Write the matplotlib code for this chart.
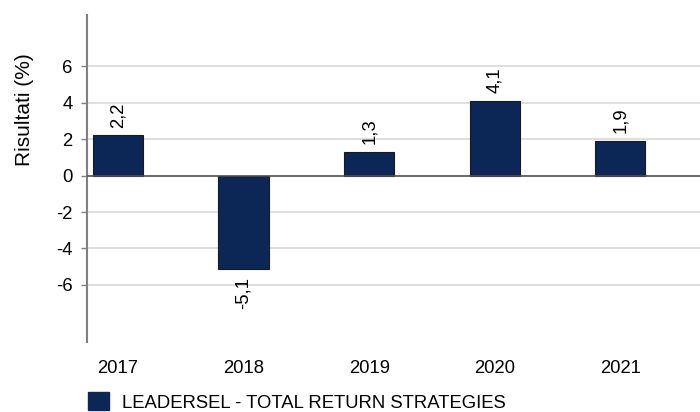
import matplotlib
matplotlib.use("Agg")
import matplotlib.pyplot as plt
from matplotlib.patches import Patch

years = ["2017", "2018", "2019", "2020", "2021"]
values = [2.2, -5.1, 1.3, 4.1, 1.9]
labels = ["2,2", "-5,1", "1,3", "4,1", "1,9"]
yticks = [-6, -4, -2, 0, 2, 4, 6]
series_name = "LEADERSEL - TOTAL RETURN STRATEGIES"

plt.rcParams['font.family'] = ['Liberation Sans', 'DejaVu Sans']
FS = 13.3
bar_color = "#0c2656"

fig = plt.figure(figsize=(7, 4.12), dpi=100)
ax = fig.add_axes([87/700, 1-342/412, 1-87/700, (342-15)/412])

x = list(range(len(years)))
ax.set_xlim(-0.247, 4.634)
ax.set_ylim(-9.13, 8.81)

for yv in yticks:
    if yv != 0:
        ax.axhline(yv, color="#d9d9d9", lw=1.2, zorder=0)
ax.axhline(0, color="#505050", lw=1.2, zorder=3)

bars = ax.bar(x, values, width=0.40, color=bar_color, edgecolor="#1a1a1a", linewidth=0.8, zorder=2)

for xi, v, lab in zip(x, values, labels):
    if v >= 0:
        ax.annotate(lab, (xi, v), xytext=(0, 5.5), textcoords="offset points",
                    rotation=90, ha="center", va="bottom", fontsize=FS)
    else:
        ax.annotate(lab, (xi, v), xytext=(0, -6), textcoords="offset points",
                    rotation=90, ha="center", va="top", fontsize=FS)

ax.set_xticks(x)
ax.set_xticklabels(years, fontsize=FS)
ax.set_yticks(yticks)
ax.set_yticklabels([str(t) for t in yticks], fontsize=FS)
ax.tick_params(axis="x", length=0, pad=13)
ax.tick_params(axis="y", length=4.5, width=1, color="#808080", pad=6)

for s in ["top", "right", "bottom"]:
    ax.spines[s].set_visible(False)
ax.spines["left"].set_color("#808080")
ax.spines["left"].set_linewidth(1.5)

fig.text(25/700, 1-110/412, "Risultati (%)", rotation=90, ha="center", va="center", fontsize=15)

handle = Patch(facecolor=bar_color, edgecolor=bar_color)
fig.legend(handles=[handle], labels=[series_name], loc="center left",
           bbox_to_anchor=(88/700, 1-402/412), frameon=False, fontsize=FS,
           handlelength=1.12, handleheight=1.12, handletextpad=0.7,
           borderpad=0, borderaxespad=0)

fig.savefig("out.png", dpi=100)
